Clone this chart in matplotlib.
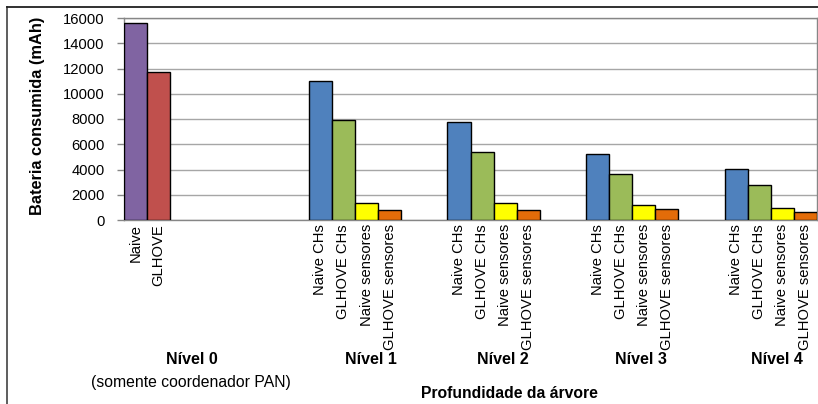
import matplotlib
matplotlib.use("Agg")
import matplotlib.pyplot as plt
from matplotlib.lines import Line2D
from matplotlib.transforms import blended_transform_factory

plt.rcParams['font.family'] = ['Liberation Sans', 'DejaVu Sans']

levels = ['Nível 0', 'Nível 1', 'Nível 2', 'Nível 3', 'Nível 4']
series = ['Naive', 'GLHOVE', 'Naive CHs', 'GLHOVE CHs', 'Naive sensores', 'GLHOVE sensores']
colors = ['#8064A2', '#C0504D', '#4F81BD', '#9BBB59', '#FFFF00', '#E36C09']

# nível 0: só coordenador PAN
pan_values = [15630, 11750]
# níveis 1-4
naive_chs = [11030, 7790, 5250, 4040]
glhove_chs = [7900, 5410, 3620, 2800]
naive_sens = [1350, 1370, 1160, 920]
glhove_sens = [820, 820, 845, 610]

level_label_x = [0.49, 1.78, 2.73, 3.73, 4.71]

W, H = 818, 404
fig = plt.figure(figsize=(W / 100, H / 100), dpi=100)
ax = fig.add_axes([124 / W, 1 - 220 / H, 693 / W, 202 / H])

slot = 1 / 6
ticks, ticklabels = [], []

def put(level, j, value):
    x = level + (j + 0.5) * slot
    ax.bar(x, value, width=slot, color=colors[j], edgecolor='black', linewidth=1, zorder=3)
    ticks.append(x)
    ticklabels.append(series[j])

for j, v in enumerate(pan_values):
    put(0, j, v)
for i in range(4):
    for j, vals in enumerate([naive_chs, glhove_chs, naive_sens, glhove_sens]):
        put(i + 1, j + 2, vals[i])

ax.set_xlim(0, 5)
ax.set_ylim(0, 16000)
ax.set_yticks(range(0, 16001, 2000))
ax.set_xticks(ticks)
ax.set_xticklabels(ticklabels, rotation=90, fontsize=10.6, va='top')
ax.tick_params(axis='x', length=0, pad=3)
ax.tick_params(axis='y', length=5, width=1, color='#868686', pad=9, labelsize=10.6)
ax.grid(axis='y', color='#A6A6A6', linewidth=1)
ax.set_axisbelow(True)
for s in ax.spines.values():
    s.set_color('#868686')
    s.set_linewidth(1)

ax.set_ylabel('Bateria consumida (mAh)', fontsize=11.8, fontweight='bold')
ax.yaxis.set_label_coords(-0.114, 0.515)

tr = blended_transform_factory(ax.transData, fig.transFigure)
for x, name in zip(level_label_x, levels):
    fig.text(x, 1 - 359 / H, name, transform=tr, fontsize=11.5, fontweight='bold',
             ha='center', va='center')
fig.text(191 / W, 1 - 383 / H, '(somente coordenador PAN)', fontsize=11.3, ha='center', va='center')
fig.text(509 / W, 1 - 393 / H, 'Profundidade da árvore', fontsize=11.3, fontweight='bold',
         ha='center', va='center')

# moldura externa do gráfico
fig.add_artist(Line2D([7 / W, 7 / W], [0, 1 - 7 / H], color='#505050', linewidth=1.3))
fig.add_artist(Line2D([7 / W, 1], [1 - 7 / H, 1 - 7 / H], color='#202020', linewidth=1.3))

fig.savefig('out.png', dpi=100)
plt.close(fig)
